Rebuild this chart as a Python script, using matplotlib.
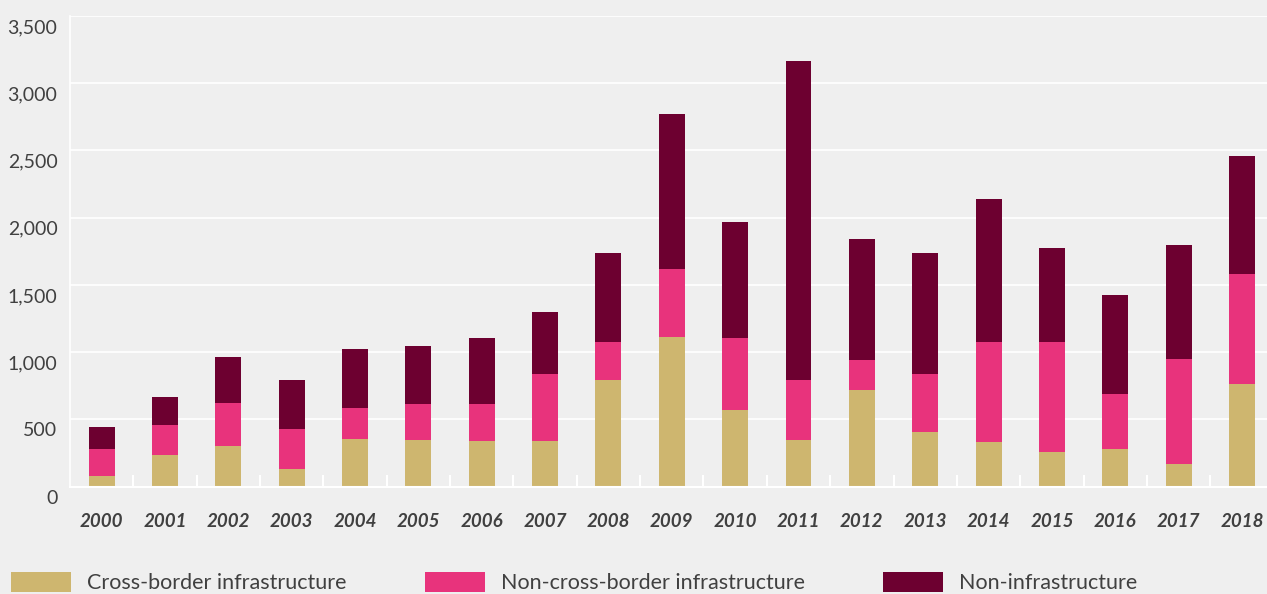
import matplotlib
matplotlib.use("Agg")
import matplotlib.pyplot as plt
import matplotlib.transforms as mtransforms
from matplotlib.ticker import FuncFormatter, FixedLocator
import numpy as np

years = ["2000", "2001", "2002", "2003", "2004", "2005", "2006", "2007", "2008", "2009",
         "2010", "2011", "2012", "2013", "2014", "2015", "2016", "2017", "2018"]
cross_border = [80, 236, 303, 132, 355, 348, 340, 340, 794, 1115,
                571, 348, 720, 407, 333, 258, 281, 169, 765]
non_cross_border = [200, 223, 320, 298, 231, 268, 276, 499, 283, 506,
                    536, 446, 223, 432, 744, 819, 409, 782, 819]
non_infrastructure = [164, 209, 343, 364, 439, 432, 491, 461, 663, 1153,
                      864, 2375, 900, 901, 1064, 700, 737, 847, 877]
series_names = ["Cross-border infrastructure", "Non-cross-border infrastructure", "Non-infrastructure"]
y_ticks = [0, 500, 1000, 1500, 2000, 2500, 3000, 3500]

colors = ["#ceb66f", "#e8337c", "#6d0030"]
bg = "#efefef"
text_color = "#404040"

plt.rcParams['font.family'] = ['Lato', 'DejaVu Sans']

fig = plt.figure(figsize=(12.67, 5.94), dpi=100, facecolor=bg)
ax = fig.add_axes([70/1267, 107.3/594, 1203.6/1267, 470.7/594])
ax.set_facecolor(bg)

x = np.arange(len(years))
bottom = np.zeros(len(years))
for vals, name, c in zip([cross_border, non_cross_border, non_infrastructure], series_names, colors):
    ax.bar(x, vals, width=0.41, bottom=bottom, color=c, label=name, zorder=3)
    bottom += np.array(vals)

ax.set_xlim(-0.5, len(years) - 0.5)
ax.set_ylim(0, 3500)
ax.set_yticks(y_ticks)
ax.yaxis.set_major_formatter(FuncFormatter(lambda v, p: f"{int(v):,}"))
ax.grid(axis='y', color='white', linewidth=1.2, zorder=0)
ax.set_axisbelow(True)

for s in ['top', 'right']:
    ax.spines[s].set_visible(False)
ax.spines['left'].set_color('white')
ax.spines['left'].set_linewidth(1.2)
ax.spines['bottom'].set_color('white')
ax.spines['bottom'].set_linewidth(1.5)
ax.spines['bottom'].set_zorder(4)

ax.set_xticks(x)
ax.set_xticklabels(years)
ax.tick_params(axis='x', length=0, pad=19, labelsize=13.5, labelcolor=text_color)
ax.xaxis.set_minor_locator(FixedLocator(np.arange(0.5, len(years) - 0.5, 1)))
ax.tick_params(axis='x', which='minor', direction='in', length=9, width=1.5, color='white')
for lab in ax.get_xticklabels():
    lab.set_fontweight('bold')
    lab.set_fontstyle('italic')

ax.tick_params(axis='y', length=0, pad=9, labelsize=14, labelcolor=text_color)
offset = mtransforms.ScaledTranslation(0, -3/100, fig.dpi_scale_trans)
for lab in ax.get_yticklabels():
    lab.set_verticalalignment('top')
    lab.set_transform(lab.get_transform() + offset)

leg = fig.legend(loc='upper left', bbox_to_anchor=(11/1267, 1 - 572/594), ncol=3,
                 frameon=False, fontsize=15.5, handlelength=2.8, handleheight=1.05,
                 handletextpad=0.72, columnspacing=3.65, borderpad=0, borderaxespad=0)
for t in leg.get_texts():
    t.set_color(text_color)

fig.savefig("out.png", dpi=100, facecolor=bg)
